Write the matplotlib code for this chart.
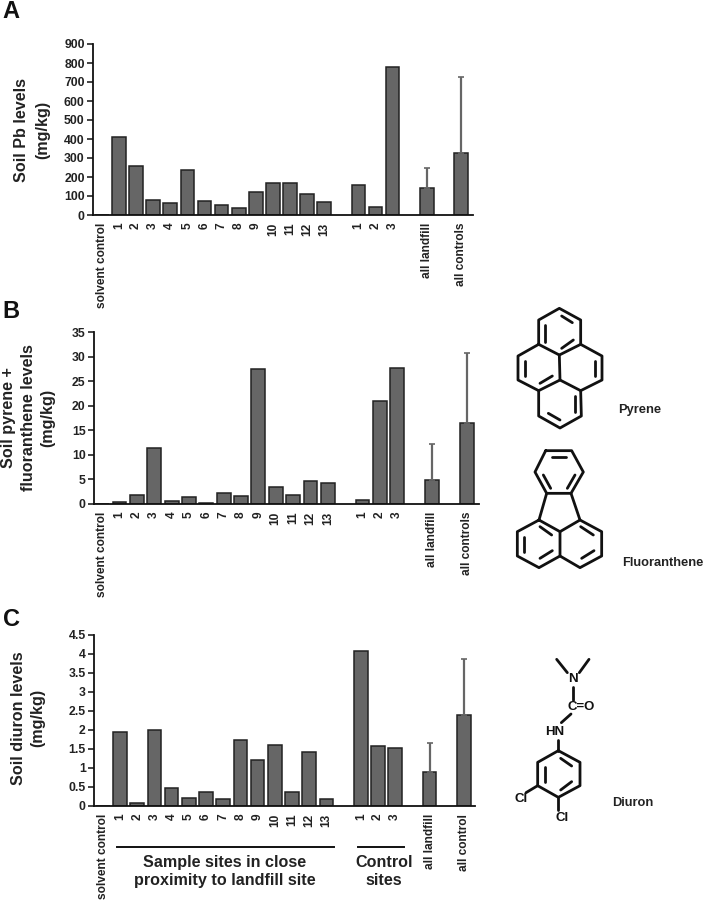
import matplotlib
matplotlib.use('Agg')
import matplotlib.pyplot as plt

plt.rcParams['font.family'] = ['Liberation Sans', 'DejaVu Sans']
plt.rcParams['font.weight'] = 'bold'

W, H = 705, 901

# Slots along the x axis, 14, 18 and 20 stay empty
slots = [0, 1, 2, 3, 4, 5, 6, 7, 8, 9, 10, 11, 12, 13, 15, 16, 17, 19, 21]
labels_a = ['solvent control', '1', '2', '3', '4', '5', '6', '7', '8', '9', '10', '11', '12', '13',
            '1', '2', '3', 'all landfill', 'all controls']
labels_c = labels_a[:-1] + ['all control']

pb = [0, 408, 260, 80, 62, 238, 76, 55, 38, 122, 170, 170, 112, 68, 157, 42, 780, 143, 325]
pb_top = [250, 725]
pb_ticks = [0, 100, 200, 300, 400, 500, 600, 700, 800, 900]

pah = [0, 0.5, 1.9, 11.5, 0.6, 1.4, 0.3, 2.2, 1.7, 27.6, 3.5, 1.9, 4.6, 4.3, 0.8, 21, 27.8, 4.9, 16.6]
pah_top = [12.2, 30.7]
pah_ticks = [0, 5, 10, 15, 20, 25, 30, 35]

diuron = [0, 1.95, 0.08, 2.0, 0.47, 0.2, 0.38, 0.18, 1.73, 1.2, 1.6, 0.38, 1.43, 0.18, 4.07, 1.57, 1.52, 0.9, 2.38]
diuron_top = [1.65, 3.85]
diuron_ticks = [0, 0.5, 1, 1.5, 2, 2.5, 3, 3.5, 4, 4.5]
diuron_ticklabels = ['0', '0.5', '1', '1.5', '2', '2.5', '3', '3.5', '4', '4.5']

fig = plt.figure(figsize=(W / 100, H / 100), dpi=100)

# Full figure overlay in pixel coordinates, for the annotations and structures
ov = fig.add_axes([0, 0, 1, 1], zorder=5)
ov.set_xlim(0, W)
ov.set_ylim(H, 0)
ov.axis('off')


def panel(vals, tops, ticks, ticklabels, xlabels, left, right, y_top, y_zero, first, step):
    ax = fig.add_axes([left / W, 1 - y_zero / H, (right - left) / W, (y_zero - y_top) / H])
    ax.bar(slots, vals, width=0.8, color='#666666', edgecolor='#222222', linewidth=1.1)
    # only the two summary bars have an upper error bar
    lower = [0, 0]
    upper = [tops[0] - vals[-2], tops[1] - vals[-1]]
    ax.errorbar(slots[-2:], vals[-2:], yerr=[lower, upper], fmt='none', ecolor='#666666',
                elinewidth=1.6, capsize=2.5, capthick=1.2)
    ax.set_xlim((left - first) / step + 1, (right - first) / step + 1)
    ax.set_ylim(ticks[0], ticks[-1])
    ax.set_yticks(ticks)
    ax.set_yticklabels(ticklabels, fontsize=8.8, color='#222222')
    ax.set_xticks(slots)
    ax.set_xticklabels(xlabels, rotation=90, fontsize=8.6, color='#222222')
    ax.tick_params(axis='x', length=0, pad=5.5)
    ax.tick_params(axis='y', length=4, width=1.1, pad=2, color='#111111')
    for s in ['top', 'right']:
        ax.spines[s].set_visible(False)
    for s in ['left', 'bottom']:
        ax.spines[s].set_linewidth(1.3)
        ax.spines[s].set_color('#111111')
    return ax


panel(pb, pb_top, pb_ticks, [str(t) for t in pb_ticks], labels_a, 93, 473, 44, 215, 119, 17.1)
panel(pah, pah_top, pah_ticks, [str(t) for t in pah_ticks], labels_a, 94, 479, 332.3, 504, 119.5, 17.36)
panel(diuron, diuron_top, diuron_ticks, diuron_ticklabels, labels_c, 94, 475, 634.7, 806, 120, 17.2)

# Panel letters
for letter, x, y in [('A', 11, 11), ('B', 11, 312), ('C', 11, 619)]:
    ov.text(x, y, letter, fontsize=17, ha='center', va='center', color='#111111')

# y axis titles
ylab = dict(fontsize=11.6, rotation=90, ha='center', va='center', ma='center', color='#222222')
ov.text(32.5, 130, 'Soil Pb levels\n(mg/kg)', linespacing=1.5, **ylab)
ov.text(28.5, 418, 'Soil pyrene +\nfluoranthene levels\n(mg/kg)', linespacing=1.38, **ylab)
ov.text(28, 718, 'Soil diuron levels\n(mg/kg)', linespacing=1.36, **ylab)

# Groups under panel C
ov.plot([117, 334], [847, 847], color='#111111', lw=1.4)
ov.plot([358, 404], [847, 847], color='#111111', lw=1.4)
ov.text(225, 871.5, 'Sample sites in close\nproximity to landfill site', fontsize=11.6,
        ha='center', va='center', ma='center', color='#222222', linespacing=1.2)
ov.text(384, 871.5, 'Control\nsites', fontsize=11.6, ha='center', va='center', ma='center',
        color='#222222', linespacing=1.2)


def bonds(paths, ox, oy, lw=2.0):
    # paths were read in a 3x zoom of the picture
    for p in paths:
        ov.plot([ox + q[0] / 3 for q in p], [oy + q[1] / 3 for q in p], color='#111111', lw=lw,
                solid_capstyle='round', solid_joinstyle='round')


pyrene = [
    [(146, 133), (146, 60), (208, 25), (272, 60), (272, 133), (208, 165), (146, 133)],
    [(146, 133), (84, 168), (84, 240), (146, 272), (210, 240), (208, 165)],
    [(272, 133), (336, 168), (336, 240), (272, 272), (210, 240)],
    [(146, 272), (146, 348), (210, 384), (274, 348), (272, 272)],
    [(166, 75), (166, 125)], [(215, 48), (247, 68)], [(215, 145), (250, 120)],
    [(104, 183), (104, 228)], [(150, 250), (187, 228)], [(316, 183), (316, 228)],
    [(255, 288), (255, 335)], [(175, 340), (210, 360)],
]
fluoranthene = [
    [(167, 452), (245, 452), (280, 516), (243, 580), (170, 580), (135, 516), (167, 452)],
    [(185, 470), (228, 470)], [(160, 525), (182, 565)], [(255, 525), (232, 565)],
    [(170, 580), (147, 660)], [(243, 580), (270, 660)],
    [(147, 660), (82, 695), (82, 768), (147, 803), (210, 768), (210, 695), (147, 660)],
    [(210, 695), (270, 660), (335, 695), (335, 768), (270, 803), (210, 768)],
    [(150, 680), (185, 705)], [(102, 712), (102, 755)], [(150, 775), (187, 752)],
    [(272, 680), (310, 705)], [(275, 775), (312, 752)],
]
diuron_bonds = [
    [(200, 58), (232, 98)], [(297, 58), (268, 98)], [(248, 142), (248, 180)], [(243, 222), (214, 248)],
    [(205, 300), (205, 332)],
    [(205, 332), (270, 367), (270, 437), (205, 472), (143, 437), (143, 367), (205, 332)],
    [(212, 355), (245, 378)], [(165, 380), (165, 425)], [(212, 450), (245, 425)],
    [(143, 437), (108, 458)], [(205, 472), (205, 510)],
]
bonds(pyrene, 490, 300)
bonds(fluoranthene, 490, 300)
bonds(diuron_bonds, 490, 640)

atom = dict(fontsize=9.5, ha='center', va='center', color='#111111')
for s, zx, zy in [('N', 248, 118), ('C=O', 275, 200), ('HN', 193, 276), ('Cl', 92, 478), ('Cl', 215, 533)]:
    ov.text(490 + zx / 3, 640 + zy / 3, s, **atom)

name = dict(fontsize=9.3, ha='center', va='center', color='#222222')
ov.text(640, 410, 'Pyrene', **name)
ov.text(662.7, 562.7, 'Fluoranthene', **name)
ov.text(632.7, 802.7, 'Diuron', **name)

fig.savefig('out.png', dpi=100)
